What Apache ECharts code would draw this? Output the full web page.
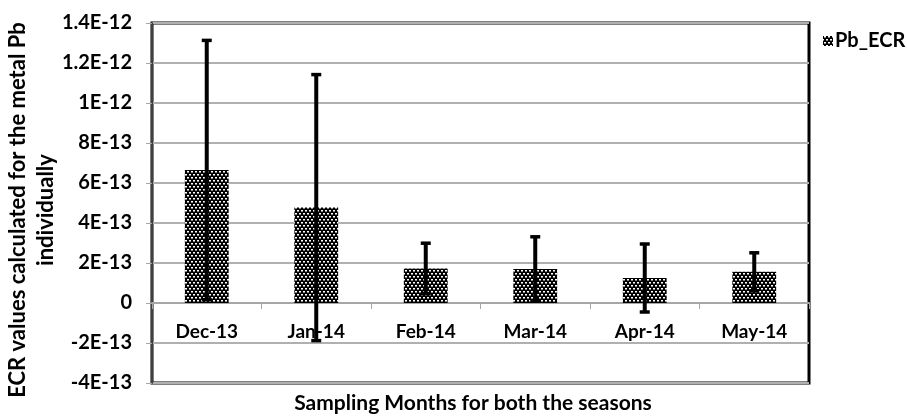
<!DOCTYPE html>
<html>
<head>
<meta charset="utf-8">
<script src="https://cdn.jsdelivr.net/npm/echarts@6/dist/echarts.min.js"></script>
<style>
  html, body { margin: 0; padding: 0; background: #fff; }
  #chart { width: 907px; height: 417px; }
</style>
</head>
<body>
<div id="chart"></div>
<script>
// Sampling months (categories)
var months = ['Dec-13', 'Jan-14', 'Feb-14', 'Mar-14', 'Apr-14', 'May-14'];
// Mean ECR values for Pb
var pbEcr = [6.65e-13, 4.77e-13, 1.73e-13, 1.70e-13, 1.25e-13, 1.56e-13];
// Error bar half-widths (±)
var pbErr = [6.48e-13, 6.65e-13, 1.26e-13, 1.61e-13, 1.70e-13, 0.95e-13];
// Y axis tick labels, bottom to top
var yTicks = ['-4E-13', '-2E-13', '0', '2E-13', '4E-13', '6E-13', '8E-13', '1E-12', '1.2E-12', '1.4E-12'];

var FONT = 'Lato';

// Dotted fill: black ground with staggered rows of small white dots
function makePattern() {
  var c = document.createElement('canvas');
  c.width = 4; c.height = 6;
  var g = c.getContext('2d');
  g.fillStyle = '#000';
  g.fillRect(0, 0, 4, 6);
  g.fillStyle = '#fff';
  g.fillRect(1, 0, 2, 1);
  g.fillRect(3, 3, 1, 1);
  g.fillRect(0, 3, 1, 1);
  g.fillStyle = '#8a8a8a';
  g.fillRect(1, 1, 2, 1);
  g.fillRect(3, 4, 1, 1);
  g.fillRect(0, 4, 1, 1);
  return c;
}
var pattern = { image: makePattern(), repeat: 'repeat' };

var errData = pbEcr.map(function (v, i) { return [i, v - pbErr[i], v + pbErr[i]]; });

var GRID_TOP = 23, GRID_BOTTOM = 34, H = 417;
var yMin = -4e-13, yMax = 1.4e-12;
// distance of the zero line above the grid's bottom edge
var plotH = H - GRID_TOP - GRID_BOTTOM;
var zeroOffset = plotH * (0 - yMin) / (yMax - yMin);

var chart = echarts.init(document.getElementById('chart'), null, { renderer: 'canvas' });
chart.setOption({
  animation: false,
  backgroundColor: '#fff',
  grid: {
    left: 152, top: GRID_TOP, right: 98, bottom: GRID_BOTTOM,
    show: true, borderColor: '#000', borderWidth: 3, backgroundColor: 'transparent'
  },
  legend: {
    show: true,
    left: 818, top: 26,
    itemWidth: 10, itemHeight: 10, itemGap: 4,
    data: [{ name: 'Pb_ECR', icon: 'rect' }],
    textStyle: { fontFamily: FONT, fontWeight: 'bold', fontSize: 20, color: '#000', padding: [0, 0, 0, -3] }
  },
  xAxis: {
    type: 'category',
    data: months,
    offset: -zeroOffset,
    axisLine: { onZero: false, lineStyle: { color: '#a6a6a6', width: 2 } },
    axisTick: { show: true, length: 6, lineStyle: { color: '#a6a6a6', width: 1 } },
    axisLabel: { margin: 19, fontFamily: FONT, fontWeight: 'bold', fontSize: 19, color: '#000' },
    z: 1
  },
  yAxis: {
    type: 'value',
    min: yMin, max: yMax, interval: 2e-13,
    axisLine: { show: true, lineStyle: { color: '#404040', width: 2 } },
    axisTick: { show: true, length: 6, lineStyle: { color: '#a6a6a6', width: 1 } },
    splitLine: { show: true, lineStyle: { color: '#b0b0b0', width: 2 } },
    axisLabel: {
      margin: 20, fontFamily: FONT, fontWeight: 'bold', fontSize: 20, color: '#000',
      formatter: function (val, idx) { return yTicks[idx]; }
    }
  },
  series: [
    {
      name: 'Pb_ECR',
      type: 'bar',
      data: pbEcr,
      barWidth: '40%',
      itemStyle: { color: pattern },
      z: 2
    },
    {
      name: 'err',
      type: 'custom',
      data: errData,
      z: 3,
      renderItem: function (params, api) {
        var i = api.value(0);
        var lo = api.coord([i, api.value(1)]);
        var hi = api.coord([i, api.value(2)]);
        var x = lo[0];
        var cap = 5;
        return {
          type: 'group',
          children: [
            { type: 'line', shape: { x1: x, y1: lo[1], x2: x, y2: hi[1] }, style: { stroke: '#000', lineWidth: 4 } },
            { type: 'line', shape: { x1: x - cap, y1: hi[1], x2: x + cap, y2: hi[1] }, style: { stroke: '#000', lineWidth: 3.5 } },
            { type: 'line', shape: { x1: x - cap, y1: lo[1], x2: x + cap, y2: lo[1] }, style: { stroke: '#000', lineWidth: 3.5 } }
          ]
        };
      }
    }
  ],
  graphic: [
    {
      type: 'text',
      x: 18, y: 210, rotation: Math.PI / 2,
      style: {
        text: 'ECR values calculated for the metal Pb',
        font: 'bold 22px ' + FONT, fill: '#000',
        align: 'center', verticalAlign: 'middle'
      }
    },
    {
      type: 'text',
      x: 46, y: 210, rotation: Math.PI / 2,
      style: {
        text: 'individually',
        font: 'bold 22px ' + FONT, fill: '#000',
        align: 'center', verticalAlign: 'middle'
      }
    },
    {
      type: 'text',
      x: 473, y: 403,
      style: {
        text: 'Sampling Months for both the seasons',
        font: 'bold 21px ' + FONT, fill: '#000',
        align: 'center', verticalAlign: 'middle'
      }
    }
  ]
});
</script>
</body>
</html>
